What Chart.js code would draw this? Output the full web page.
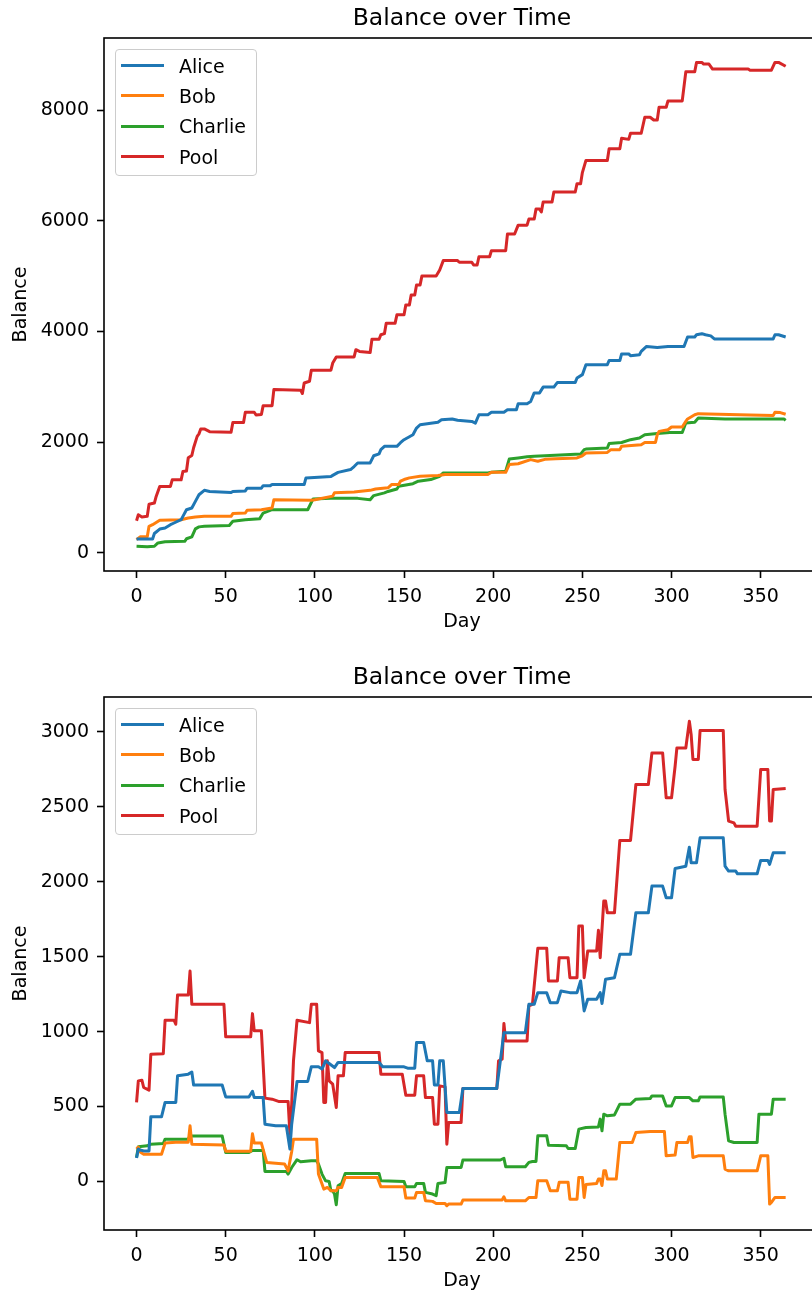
<!DOCTYPE html>
<html lang="en">
  <head>
    <meta charset="UTF-8" />
    <title>Balance over Time</title>
    <script src="https://cdn.jsdelivr.net/npm/chart.js"></script>
    <style>
      html, body { margin: 0; padding: 0; overflow: hidden; background: #fff; }
      .panel { position: absolute; left: 0; width: 924px; height: 634px; }
      .legend {
        position: absolute; left: 115px; top: 48.5px; box-sizing: border-box;
        width: 142px; height: 127px; padding-top: 1px;
        border: 1px solid #cccccc; border-radius: 4px;
        background: rgba(255, 255, 255, 0.8);
        font-family: "DejaVu Sans"; font-size: 19px; color: #000;
      }
      .legend .row { display: flex; align-items: center; height: 30.3px; }
      .legend .swatch { width: 43px; height: 3px; margin-left: 5px; margin-right: 15px; }
    </style>
  </head>
  <body>
    <!-- canvas wider than the window so the title centres over the plot, as in the original -->
    <div class="panel" style="top: 0px"><canvas id="chartTop" width="924" height="634"></canvas></div>
    <div class="panel" style="top: 659px"><canvas id="chartBottom" width="924" height="634"></canvas></div>

    <script>
      // names, colours and ticks
      const seriesNames = ["Alice", "Bob", "Charlie", "Pool"];
      const seriesColors = ["#1f77b4", "#ff7f0e", "#2ca02c", "#d62728"];
      const dayTicks = [0, 50, 100, 150, 200, 250, 300, 350];
      const topBalanceTicks = [0, 2000, 4000, 6000, 8000];
      const bottomBalanceTicks = [0, 500, 1000, 1500, 2000, 2500, 3000];

      // first run: [day, balance] at each change
      const topAlice = [[0,250],[9,250],[10,350],[13,430],[16,450],[19,510],[21,540],[25,600],[26,660],[28,780],[31,810],[33,930],[35,1050],[38,1130],[41,1110],[53,1090],[54,1110],[61,1120],[62,1170],[70,1170],[71,1215],[75,1215],[76,1235],[94,1235],[95,1355],[109,1380],[110,1400],[113,1455],[120,1505],[122,1560],[124,1625],[131,1625],[133,1755],[136,1790],[137,1865],[139,1925],[146,1925],[148,1990],[150,2045],[155,2135],[157,2255],[159,2315],[169,2360],[171,2405],[177,2420],[180,2395],[188,2375],[190,2345],[192,2495],[197,2495],[199,2540],[206,2540],[208,2585],[213,2585],[214,2695],[219,2695],[221,2735],[223,2890],[226,2890],[228,2995],[234,2995],[236,3080],[246,3080],[247,3160],[250,3220],[252,3400],[264,3400],[265,3475],[271,3475],[272,3595],[276,3595],[277,3560],[282,3580],[283,3640],[286,3730],[289,3720],[292,3710],[298,3730],[307,3730],[309,3900],[313,3900],[314,3940],[317,3960],[319,3940],[322,3920],[324,3865],[357,3865],[358,3940],[360,3940],[364,3900]];
      const topBob = [[0,240],[2,290],[6,290],[7,480],[9,510],[13,590],[25,600],[29,630],[33,650],[38,660],[53,660],[54,710],[61,720],[62,770],[70,780],[76,810],[77,960],[98,950],[100,960],[110,1025],[111,1085],[122,1100],[131,1130],[134,1155],[141,1175],[143,1235],[147,1235],[148,1295],[150,1325],[153,1355],[159,1385],[169,1400],[173,1415],[197,1415],[199,1455],[207,1455],[209,1595],[214,1610],[221,1685],[225,1655],[229,1690],[235,1700],[247,1715],[250,1755],[252,1805],[264,1815],[266,1865],[271,1865],[272,1925],[283,1955],[285,1995],[291,1995],[292,2135],[293,2195],[298,2225],[300,2275],[306,2275],[308,2375],[309,2420],[313,2495],[315,2515],[344,2490],[357,2480],[358,2540],[361,2535],[364,2505]];
      const topCharlie = [[0,120],[6,110],[10,120],[12,180],[16,200],[27,210],[28,255],[31,290],[33,435],[35,470],[38,480],[52,495],[54,570],[61,600],[69,615],[71,720],[76,780],[96,780],[99,975],[109,985],[124,985],[131,960],[133,1035],[139,1085],[141,1110],[146,1155],[147,1205],[155,1250],[158,1295],[165,1325],[170,1385],[172,1445],[197,1445],[199,1455],[207,1475],[209,1695],[214,1715],[219,1735],[223,1745],[229,1755],[249,1785],[251,1865],[252,1875],[264,1895],[265,1975],[272,1995],[277,2045],[282,2075],[285,2135],[292,2155],[299,2175],[306,2175],[308,2345],[313,2360],[315,2435],[330,2420],[363,2420],[364,2395]];
      const topPool = [[0,580],[1,690],[3,650],[6,660],[7,880],[10,900],[11,1020],[13,1200],[19,1200],[20,1320],[25,1320],[26,1470],[28,1480],[29,1720],[31,1760],[32,1900],[34,2105],[35,2150],[36,2240],[38,2240],[41,2190],[53,2180],[54,2357],[60,2357],[61,2540],[66,2540],[67,2490],[70,2500],[71,2660],[76,2660],[77,2950],[92,2940],[93,2880],[94,3070],[97,3100],[98,3300],[109,3300],[110,3430],[112,3540],[122,3540],[123,3670],[125,3640],[131,3620],[132,3860],[136,3860],[137,3940],[139,3960],[140,4150],[145,4150],[146,4300],[150,4300],[151,4480],[153,4480],[154,4660],[156,4660],[157,4840],[159,4840],[160,5000],[168,5000],[170,5110],[172,5280],[180,5280],[181,5250],[188,5250],[189,5200],[191,5200],[192,5350],[198,5350],[199,5460],[207,5460],[208,5760],[212,5760],[214,5920],[219,5920],[220,6030],[223,6030],[224,6210],[226,6210],[227,6160],[228,6340],[233,6340],[234,6520],[246,6520],[247,6670],[249,6670],[250,6870],[252,7090],[264,7090],[265,7300],[271,7300],[272,7490],[276,7470],[277,7580],[283,7580],[285,7870],[288,7870],[290,7820],[292,7820],[293,8050],[297,8050],[298,8165],[306,8165],[308,8690],[313,8690],[314,8860],[317,8860],[318,8830],[321,8830],[323,8740],[343,8740],[344,8720],[356,8720],[358,8860],[360,8860],[364,8790]];

      // second run
      const bottomAlice = [[0,156],[1,217],[2,210],[4,204],[7,204],[8,431],[14,431],[16,527],[22,527],[23,705],[29,716],[31,730],[32,644],[48,644],[50,564],[63,564],[65,602],[66,560],[71,560],[72,382],[78,371],[84,371],[86,216],[87,382],[90,667],[96,667],[98,765],[102,765],[104,750],[106,805],[108,787],[111,760],[113,794],[136,794],[138,765],[150,765],[152,756],[156,756],[157,927],[161,927],[163,805],[166,805],[167,644],[169,644],[170,805],[172,805],[174,460],[181,460],[183,620],[202,620],[204,805],[206,993],[218,993],[220,1182],[223,1182],[225,1260],[230,1260],[232,1193],[236,1193],[238,1271],[243,1260],[247,1260],[249,1338],[251,1138],[253,1216],[258,1216],[260,1260],[261,1187],[263,1349],[268,1360],[271,1516],[277,1516],[280,1793],[287,1793],[289,1971],[295,1971],[297,1893],[300,1893],[302,2089],[308,2104],[310,2231],[311,2127],[314,2127],[316,2293],[329,2293],[330,2104],[332,2071],[336,2071],[337,2053],[348,2053],[350,2142],[354,2142],[355,2116],[357,2193],[364,2193]];
      const bottomBob = [[0,216],[1,229],[2,196],[4,182],[14,182],[16,256],[22,262],[29,262],[30,371],[31,249],[49,244],[50,202],[64,202],[65,318],[66,256],[70,256],[73,127],[83,116],[85,71],[87,200],[88,282],[101,282],[102,49],[105,-51],[107,-40],[109,-62],[112,-62],[113,-40],[115,-40],[117,27],[135,27],[137,-36],[150,-36],[151,-111],[156,-111],[157,-73],[161,-73],[162,-129],[166,-133],[168,-147],[173,-147],[174,-162],[175,-151],[182,-151],[183,-124],[205,-124],[206,-102],[207,-129],[218,-129],[220,-107],[224,-107],[225,5],[230,5],[232,-62],[236,-62],[237,-6],[242,-6],[243,-118],[247,-118],[248,27],[250,27],[251,-107],[252,-20],[258,-13],[259,16],[260,16],[261,-27],[262,71],[263,71],[264,16],[269,16],[271,260],[278,260],[280,327],[288,333],[296,333],[297,171],[302,176],[303,260],[309,260],[310,298],[311,298],[312,160],[315,171],[329,171],[330,82],[332,71],[348,71],[350,171],[354,171],[355,-151],[356,-140],[358,-107],[364,-107]];
      const bottomCharlie = [[0,160],[1,231],[6,238],[8,249],[15,253],[16,282],[29,282],[30,304],[48,304],[50,193],[63,193],[65,207],[71,207],[72,67],[84,67],[85,49],[87,93],[90,145],[92,131],[98,138],[101,138],[102,116],[104,49],[106,4],[108,0],[109,-62],[110,-62],[111,-84],[112,-155],[113,-29],[115,-13],[117,53],[136,53],[137,5],[150,0],[151,-36],[156,-36],[157,-13],[161,-13],[162,-73],[166,-84],[168,-95],[169,-13],[173,-7],[174,93],[182,93],[183,143],[204,143],[206,155],[207,98],[218,98],[220,127],[222,133],[224,133],[225,305],[230,305],[231,242],[241,238],[242,220],[246,220],[248,349],[252,360],[259,364],[260,416],[261,338],[262,449],[264,438],[268,444],[271,516],[277,516],[280,549],[288,553],[289,571],[295,571],[297,504],[300,504],[302,560],[310,560],[312,538],[315,538],[316,564],[329,564],[330,449],[332,271],[335,260],[348,260],[349,449],[356,449],[357,549],[364,549]];
      const bottomPool = [[0,527],[1,671],[3,676],[4,627],[7,609],[8,849],[15,853],[16,1076],[21,1076],[22,1049],[23,1245],[29,1244],[30,1404],[31,1182],[49,1182],[50,965],[64,965],[65,1120],[66,1005],[70,1005],[72,556],[76,549],[80,533],[85,533],[86,315],[87,516],[88,805],[90,1076],[97,1060],[98,1182],[101,1182],[102,871],[104,860],[105,527],[106,527],[107,805],[108,671],[110,649],[112,494],[113,705],[116,705],[117,860],[136,860],[137,716],[149,716],[151,576],[156,576],[157,705],[161,705],[162,560],[166,560],[167,382],[169,382],[170,638],[173,631],[174,249],[175,393],[182,393],[183,620],[202,620],[203,805],[205,816],[206,1054],[207,938],[219,938],[220,1171],[222,1182],[225,1556],[230,1556],[231,1338],[236,1338],[237,1493],[242,1493],[243,1360],[247,1360],[248,1704],[250,1704],[251,1360],[253,1538],[258,1538],[259,1676],[260,1493],[262,1871],[263,1871],[264,1793],[268,1793],[271,2276],[277,2276],[280,2649],[287,2649],[289,2860],[295,2860],[297,2560],[300,2560],[302,2771],[303,2893],[308,2893],[310,3071],[311,2982],[312,2816],[315,2816],[316,3009],[329,3009],[330,2616],[332,2405],[335,2393],[336,2371],[348,2371],[350,2749],[354,2749],[355,2405],[356,2405],[357,2616],[364,2623]];

      const FONT = "DejaVu Sans";

      // matplotlib-like frame on all four sides
      const framePlugin = {
        id: "frame",
        afterDatasetsDraw(chart) {
          const { ctx, chartArea: a } = chart;
          ctx.save();
          ctx.strokeStyle = "#000";
          ctx.lineWidth = 1.6;
          ctx.strokeRect(a.left, a.top, a.right - a.left, a.bottom - a.top);
          ctx.restore();
        },
      };

      function makeChart(canvasId, series, yMin, yMax, yTicks) {
        const datasets = series.map((pts, i) => ({
          label: seriesNames[i],
          data: pts.map((p) => ({ x: p[0], y: p[1] })),
          borderColor: seriesColors[i],
          backgroundColor: seriesColors[i],
          borderWidth: 3,
          pointRadius: 0,
          tension: 0,
          fill: false,
          borderJoinStyle: "round",
        }));

        const chart = new Chart(document.getElementById(canvasId), {
          type: "line",
          data: { datasets },
          options: {
            responsive: false,
            animation: false,
            layout: { padding: 0 },
            plugins: {
              legend: { display: false },
              tooltip: { enabled: false },
              title: {
                display: true,
                text: "Balance over Time",
                color: "#000",
                font: { family: FONT, size: 23.5, weight: "normal", lineHeight: 1.2 },
                padding: { top: 4.5, bottom: 5.3 },
              },
            },
            scales: {
              x: {
                type: "linear",
                min: -18.25,
                max: 383.25,
                afterBuildTicks: (s) => { s.ticks = dayTicks.map((v) => ({ value: v })); },
                afterFit: (s) => { s.height = 63; },
                ticks: {
                  callback: (v) => String(v),
                  color: "#000",
                  font: { family: FONT, size: 19 },
                  padding: 8,
                  maxRotation: 0,
                  autoSkip: false,
                },
                grid: { drawOnChartArea: false, drawTicks: true, tickLength: 7, tickColor: "#000", tickWidth: 1.6 },
                border: { display: false },
                title: {
                  display: true,
                  text: "Day",
                  color: "#000",
                  font: { family: FONT, size: 19, lineHeight: 1.2 },
                  padding: { top: 0, bottom: 1 },
                },
              },
              y: {
                type: "linear",
                min: yMin,
                max: yMax,
                afterBuildTicks: (s) => { s.ticks = yTicks.map((v) => ({ value: v })); },
                afterFit: (s) => { s.width = 104; },
                ticks: {
                  callback: (v) => String(v),
                  color: "#000",
                  font: { family: FONT, size: 19 },
                  padding: 8,
                },
                grid: { drawOnChartArea: false, drawTicks: true, tickLength: 7, tickColor: "#000", tickWidth: 1.6 },
                border: { display: false },
                title: {
                  display: true,
                  text: "Balance",
                  color: "#000",
                  font: { family: FONT, size: 19, lineHeight: 1.2 },
                  padding: { top: 10, bottom: 0 },
                },
              },
              // empty spacer on the right, same width as the left axis,
              // so the title is centred over the plot area
              spacer: {
                type: "linear",
                position: "right",
                min: 0,
                max: 1,
                ticks: { display: false },
                grid: { display: false },
                border: { display: false },
                afterFit: (s) => { s.width = 104; },
              },
            },
          },
          plugins: [framePlugin],
        });

        // legend box in the upper left corner, built from the datasets
        const box = document.createElement("div");
        box.className = "legend";
        chart.data.datasets.forEach((ds) => {
          const row = document.createElement("div");
          row.className = "row";
          const sw = document.createElement("span");
          sw.className = "swatch";
          sw.style.background = ds.borderColor;
          const txt = document.createElement("span");
          txt.textContent = ds.label;
          row.appendChild(sw);
          row.appendChild(txt);
          box.appendChild(row);
        });
        chart.canvas.parentNode.appendChild(box);
        return chart;
      }

      makeChart("chartTop", [topAlice, topBob, topCharlie, topPool], -327, 9301, topBalanceTicks);
      makeChart("chartBottom", [bottomAlice, bottomBob, bottomCharlie, bottomPool], -324, 3233, bottomBalanceTicks);
    </script>
  </body>
</html>
